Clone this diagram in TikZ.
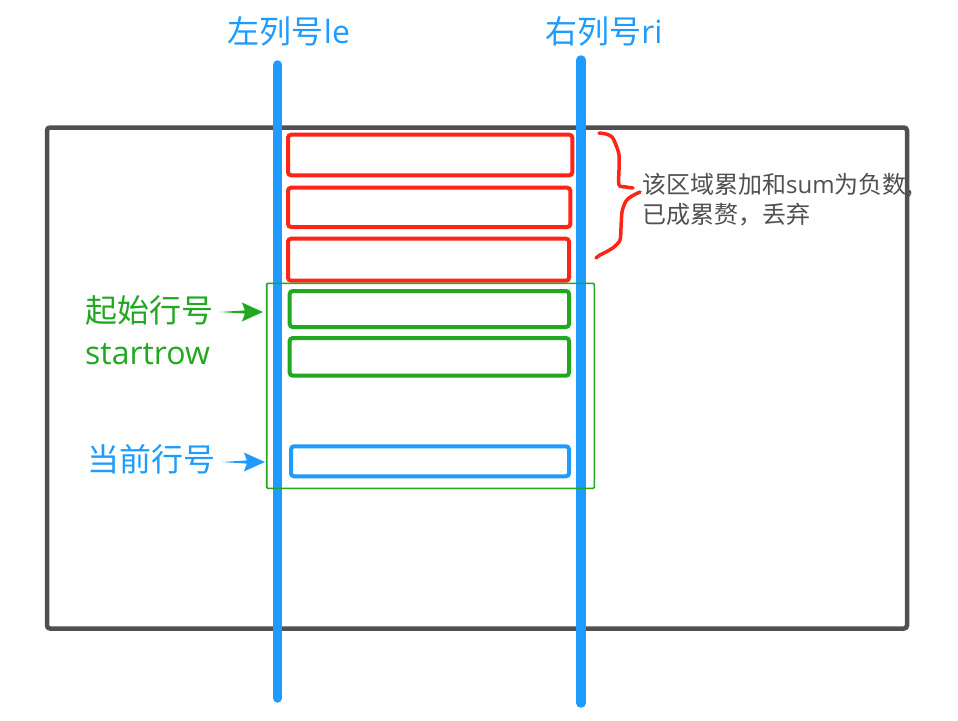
\documentclass[tikz,border=0pt]{standalone}
\usepackage{fontspec}
\setmainfont{Noto Sans CJK SC}
\newfontfamily\lat{Open Sans}
\usetikzlibrary{arrows.meta,calc}
\definecolor{cblue}{RGB}{30,155,255}
\definecolor{cred}{RGB}{255,36,24}
\definecolor{cgreen}{RGB}{32,168,32}
\definecolor{cgray}{RGB}{80,80,80}
\tikzset{
  box/.style={draw, line width=4pt, rounded corners=3pt, inner sep=0pt, fill=none},
  redbox/.style={box, draw=cred},
  greenbox/.style={box, draw=cgreen},
  bluebox/.style={box, draw=cblue},
  frame/.style={draw=cgray, line width=4.5pt, rounded corners=3pt, inner sep=0pt},
  window/.style={draw=cgreen, line width=1.6pt, rounded corners=1pt, inner sep=0pt},
  vline/.style={draw=cblue, line width=9.5pt, line cap=round},
  title/.style={text=cblue, font=\fontsize{32}{36}\selectfont, inner sep=0pt},
  lbl/.style={font=\fontsize{32}{36}\selectfont, inner sep=0pt, anchor=west},
  note/.style={text=cgray, font=\fontsize{24}{29.5}\selectfont, inner sep=0pt, anchor=west, align=left},
}
\begin{document}
\begin{tikzpicture}[x=1pt,y=-1pt]
\useasboundingbox (0,0) rectangle (958,720);
\fill[white] (0,0) rectangle (958,720);

% outer frame
\node[frame, minimum width=860pt, minimum height=501pt] (frame) at (477,378) {};

% column lines
\coordinate (leT) at (277.7,65);
\coordinate (leB) at (277.7,698);
\coordinate (riT) at (581,60);
\coordinate (riB) at (581,703);
\draw[vline] (leT) -- (leB);
\draw[vline] (riT) -- (riB);

\node[title] (lel) at (289,31) {左列号{\lat le}};
\node[title] (ril) at (604,31) {右列号{\lat ri}};

% red rows
\node[redbox, minimum width=284.3pt, minimum height=40.6pt] (r1) at (430.15,155) {};
\node[redbox, minimum width=282.3pt, minimum height=39.3pt] (r2) at (429.15,207.35) {};
\node[redbox, minimum width=281pt, minimum height=42pt] (r3) at (428.5,259.7) {};

% window
\node[window, minimum width=327.6pt, minimum height=205pt] (win) at (430.5,385.8) {};

% green rows
\node[greenbox, minimum width=279.3pt, minimum height=36pt] (g1) at (429.35,309) {};
\node[greenbox, minimum width=279.3pt, minimum height=37.7pt] (g2) at (429.35,356.85) {};

% blue current row
\node[bluebox, minimum width=278pt, minimum height=30pt] (b1) at (430,461.3) {};

% brace
\draw[cred, line width=3.5pt, line cap=round, line join=round]
  plot[smooth, tension=0.5] coordinates {(599,133) (606,134) (612,137) (616,145) (619,155) (619,170) (619,185) (626,187) (633,188)};
\draw[cred, line width=3.5pt, line cap=round, line join=round]
  plot[smooth, tension=0.5] coordinates {(640,192) (632,196) (626,201) (622,212) (621,228) (620,240) (614,247) (606,252) (600,255) (596,258)};

% note
\node[note] (nt) at (642,199.5) {该区域累加和{\lat sum}为负数,\\已成累赘，丢弃};

% labels
\node[lbl, text=cgreen] (st) at (85,310) {起始行号};
\node[lbl, text=cgreen, anchor=base west] (str) at (85,364) {\lat startrow};
\node[lbl, text=cblue] (cur) at (87,459) {当前行号};

% arrows
\coordinate (gtail) at (220,312);
\coordinate (gtip) at ([xshift=-3pt]win.west |- gtail);
\fill[cgreen] (gtail) -- ($(gtip)+(-18,-1.6)$) -- ($(gtip)+(-21,-9.5)$) -- (gtip)
  -- ($(gtip)+(-21,9.5)$) -- ($(gtip)+(-18,1.6)$) -- cycle;
\coordinate (btail) at (222,462);
\coordinate (btip) at ([xshift=-1pt]win.west |- btail);
\fill[cblue] (btail) -- ($(btip)+(-18,-1.6)$) -- ($(btip)+(-21,-9.5)$) -- (btip)
  -- ($(btip)+(-21,9.5)$) -- ($(btip)+(-18,1.6)$) -- cycle;
\end{tikzpicture}
\end{document}
